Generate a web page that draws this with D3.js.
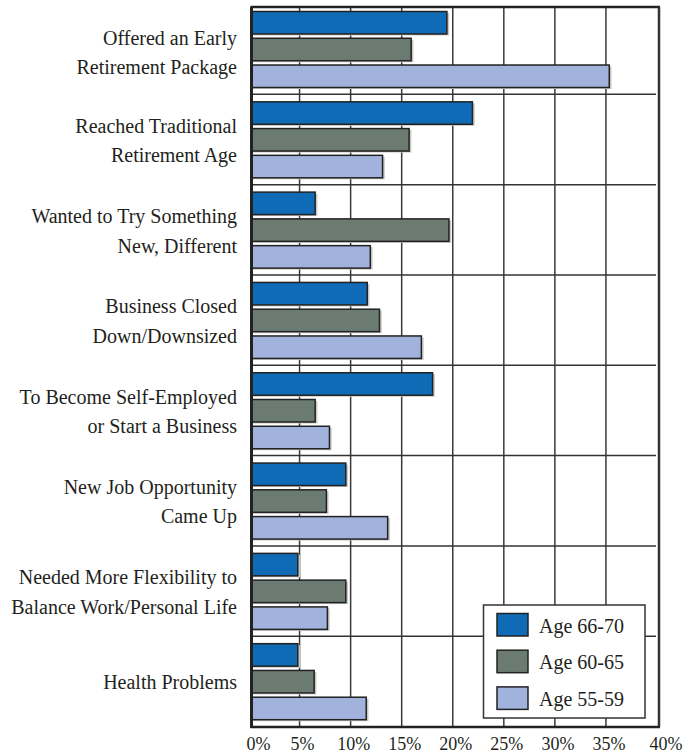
<!DOCTYPE html>
<html>
<head>
<meta charset="utf-8">
<script src="https://cdn.jsdelivr.net/npm/d3@7"></script>
<style>
  html, body { margin: 0; padding: 0; background: #fff; }
  svg { display: block; }
  text { font-family: "Liberation Serif", "Times New Roman", serif; fill: #231f20; }
</style>
</head>
<body>
<svg id="chart" width="699" height="755"></svg>
<script>
// ---- data ----
const categories = [
  ["Offered an Early", "Retirement Package"],
  ["Reached Traditional", "Retirement Age"],
  ["Wanted to Try Something", "New, Different"],
  ["Business Closed", "Down/Downsized"],
  ["To Become Self-Employed", "or Start a Business"],
  ["New Job Opportunity", "Came Up"],
  ["Needed More Flexibility to", "Balance Work/Personal Life"],
  ["Health Problems"]
];
const seriesNames = ["Age 66-70", "Age 60-65", "Age 55-59"];
const age6670 = [19.5, 22.0, 6.6, 11.7, 18.1, 9.6, 4.9, 4.9];
const age6065 = [16.0, 15.8, 19.7, 12.9, 6.6, 7.7, 9.6, 6.5];
const age5559 = [35.4, 13.2, 12.0, 17.0, 8.0, 13.7, 7.8, 11.6];
const tickValues = [0, 5, 10, 15, 20, 25, 30, 35, 40];
const tickLabels = ["0%", "5%", "10%", "15%", "20%", "25%", "30%", "35%", "40%"];
const colors = ["#0f6bb5", "#6b7b72", "#a1b3dc"];

const series = [age6670, age6065, age5559];
const rows = categories.map((c, i) => ({
  key: c.join(" "), label: c, values: series.map((s, j) => ({ s: j, v: s[i] }))
}));

const svg = d3.select("#chart");
const x = d3.scaleLinear().domain([0, 40]).range([248.5, 657]);
const y = d3.scaleBand().domain(rows.map(r => r.key)).range([4, 726.5]).paddingInner(0).paddingOuter(0);
const yInner = d3.scaleBand().domain(d3.range(seriesNames.length)).range([7.5, 83.5]).paddingInner(0.16);

const plotTop = 7, plotBottom = 727, plotLeft = 251.5, plotRight = 659;

// vertical gridlines
svg.append("g").selectAll("line").data(tickValues.slice(1, -1)).join("line")
  .attr("x1", d => x(d)).attr("x2", d => x(d))
  .attr("y1", plotTop).attr("y2", plotBottom)
  .attr("stroke", "#3a3a3a").attr("stroke-width", 1.5);

// horizontal separators
svg.append("g").selectAll("line").data(rows.slice(1)).join("line")
  .attr("x1", plotLeft).attr("x2", plotRight - 3)
  .attr("y1", d => y(d.key)).attr("y2", d => y(d.key))
  .attr("stroke", "#333").attr("stroke-width", 1.5);

// bars
const groups = svg.append("g").selectAll("g").data(rows).join("g")
  .attr("transform", d => `translate(0,${y(d.key)})`);
groups.selectAll("rect.shadow").data(d => d.values).join("rect")
  .attr("class", "shadow")
  .attr("x", plotLeft + 1.5).attr("y", d => yInner(d.s) + 1.5)
  .attr("width", d => x(d.v) - plotLeft).attr("height", yInner.bandwidth())
  .attr("fill", "#c8c8c8");
groups.selectAll("rect.bar").data(d => d.values).join("rect")
  .attr("class", "bar")
  .attr("x", plotLeft).attr("y", d => yInner(d.s))
  .attr("width", d => x(d.v) - plotLeft - 0.75).attr("height", yInner.bandwidth())
  .attr("fill", d => colors[d.s]).attr("stroke", "#222").attr("stroke-width", 1.5);

// frame
svg.append("line").attr("x1", plotLeft - 1).attr("x2", plotRight + 1).attr("y1", plotTop).attr("y2", plotTop)
  .attr("stroke", "#222").attr("stroke-width", 2.5);
svg.append("line").attr("x1", plotLeft - 1).attr("x2", plotRight + 1).attr("y1", plotBottom).attr("y2", plotBottom)
  .attr("stroke", "#222").attr("stroke-width", 2.5);
svg.append("line").attr("x1", plotRight).attr("x2", plotRight).attr("y1", plotTop).attr("y2", plotBottom)
  .attr("stroke", "#333").attr("stroke-width", 2.5);
svg.append("line").attr("x1", plotLeft).attr("x2", plotLeft).attr("y1", plotTop).attr("y2", plotBottom + 1)
  .attr("stroke", "#222").attr("stroke-width", 3);

// category labels
const lineH = 29.5;
svg.append("g").selectAll("text").data(rows).join("text")
  .attr("text-anchor", "end").attr("font-size", 20)
  .each(function (d, k) {
    const c = y(d.key) + y.bandwidth() / 2 + (k === 0 ? 4 : 1.5);
    const n = d.label.length;
    d3.select(this).selectAll("tspan").data(d.label).join("tspan")
      .attr("x", 237)
      .attr("y", (t, i) => c + 6.5 + (i - (n - 1) / 2) * lineH)
      .text(t => t);
  });

// x tick labels
const tickDx = v => (v === 0 ? 10 : v === 40 ? 9 : 3);
svg.append("g").selectAll("text").data(tickValues).join("text")
  .attr("x", d => x(d) + tickDx(d)).attr("y", 750)
  .attr("text-anchor", "middle").attr("font-size", 18)
  .text((d, i) => tickLabels[i]);

// legend
const lg = svg.append("g");
lg.append("rect").attr("x", 483.5).attr("y", 605).attr("width", 161.5).attr("height", 113)
  .attr("fill", "#fff").attr("stroke", "#333").attr("stroke-width", 1.5);
const items = lg.selectAll("g").data(seriesNames).join("g")
  .attr("transform", (d, i) => `translate(497,${613.5 + i * 36.7})`);
items.append("rect").attr("width", 31).attr("height", 22.5)
  .attr("fill", (d, i) => colors[i]).attr("stroke", "#222").attr("stroke-width", 1.5);
items.append("text").attr("x", 42).attr("y", 19).attr("font-size", 20).text(d => d);
</script>
</body>
</html>
